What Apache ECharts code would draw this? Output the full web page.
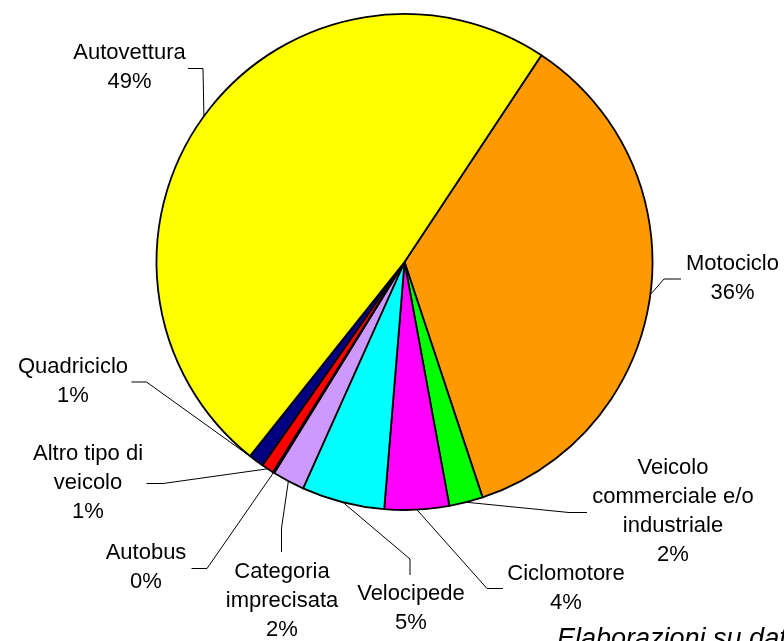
<!DOCTYPE html>
<html>
<head>
<meta charset="utf-8">
<script src="https://cdn.jsdelivr.net/npm/echarts@6/dist/echarts.min.js"></script>
<style>
  html, body { margin: 0; padding: 0; background: #fff; }
  #chart { width: 784px; height: 641px; }
</style>
</head>
<body>
<div id="chart"></div>
<script>
// Vehicle categories, clockwise starting from Motociclo
const categories = [
  'Motociclo',
  'Veicolo\ncommerciale e/o\nindustriale',
  'Ciclomotore',
  'Velocipede',
  'Categoria\nimprecisata',
  'Autobus',
  'Altro tipo di\nveicolo',
  'Quadriciclo',
  'Autovettura'
];
// Share of vehicles involved (%)
const shares = [35.6, 2.2, 4.2, 5.4, 2.1, 0.1, 0.8, 1.0, 48.6];
const sliceColors = ['#FF9900', '#00FF00', '#FF00FF', '#00FFFF', '#CC99FF', '#993366', '#FF0000', '#000080', '#FFFF00'];
const sourceNote = 'Elaborazioni su dati ACI-ISTAT';

// Label block centres, plus the elbow and end of each leader line
const labelSpots = [
  { x: 732.5, y: 278,   elbow: [664, 279],   end: [681, 279] },
  { x: 673,   y: 511,   elbow: [569, 512.5], end: [587, 512.5] },
  { x: 566,   y: 588,   elbow: [487, 588.5], end: [503, 588.5] },
  { x: 411,   y: 608,   elbow: [410, 559],   end: [410, 575] },
  { x: 282,   y: 601,   elbow: [281.5, 528], end: [281.5, 552] },
  { x: 146,   y: 567,   elbow: [207, 568.5], end: [191.5, 568.5] },
  { x: 88,    y: 483,   elbow: [163, 483.5], end: [146.5, 483.5] },
  { x: 73,    y: 381,   elbow: [146.5, 382], end: [131.5, 382] },
  { x: 129.5, y: 67,    elbow: [203, 68.5],  end: [188, 68.5] }
];

const chart = echarts.init(document.getElementById('chart'), null, { renderer: 'canvas' });

chart.setOption({
  animation: false,
  backgroundColor: '#ffffff',
  graphic: [{
    type: 'text',
    left: 557,
    top: 626,
    style: {
      text: sourceNote,
      font: 'italic 27px "Liberation Sans", Arial, sans-serif',
      fill: '#000000'
    }
  }],
  series: [{
    type: 'pie',
    center: [404.5, 262],
    radius: 248,
    startAngle: 56.5,
    clockwise: true,
    percentPrecision: 0,
    avoidLabelOverlap: false,
    emphasis: { disabled: true },
    itemStyle: { borderColor: '#000000', borderWidth: 1.8 },
    label: {
      show: true,
      position: 'outside',
      formatter: '{b}\n{d}%',
      fontFamily: '"Liberation Sans", Arial, sans-serif',
      fontSize: 22,
      lineHeight: 29,
      color: '#000000',
      align: 'center'
    },
    labelLine: {
      show: true,
      length: 20,
      length2: 15,
      lineStyle: { color: '#000000', width: 1 }
    },
    labelLayout: function (params) {
      const spot = labelSpots[params.dataIndex];
      const pts = params.labelLinePoints;
      const start = pts && pts[0] ? pts[0] : spot.elbow;
      return {
        x: spot.x,
        y: spot.y,
        align: 'center',
        verticalAlign: 'middle',
        labelLinePoints: [start, spot.elbow, spot.end]
      };
    },
    data: categories.map((name, i) => ({
      name: name,
      value: shares[i],
      itemStyle: { color: sliceColors[i] }
    }))
  }]
});
</script>
</body>
</html>
